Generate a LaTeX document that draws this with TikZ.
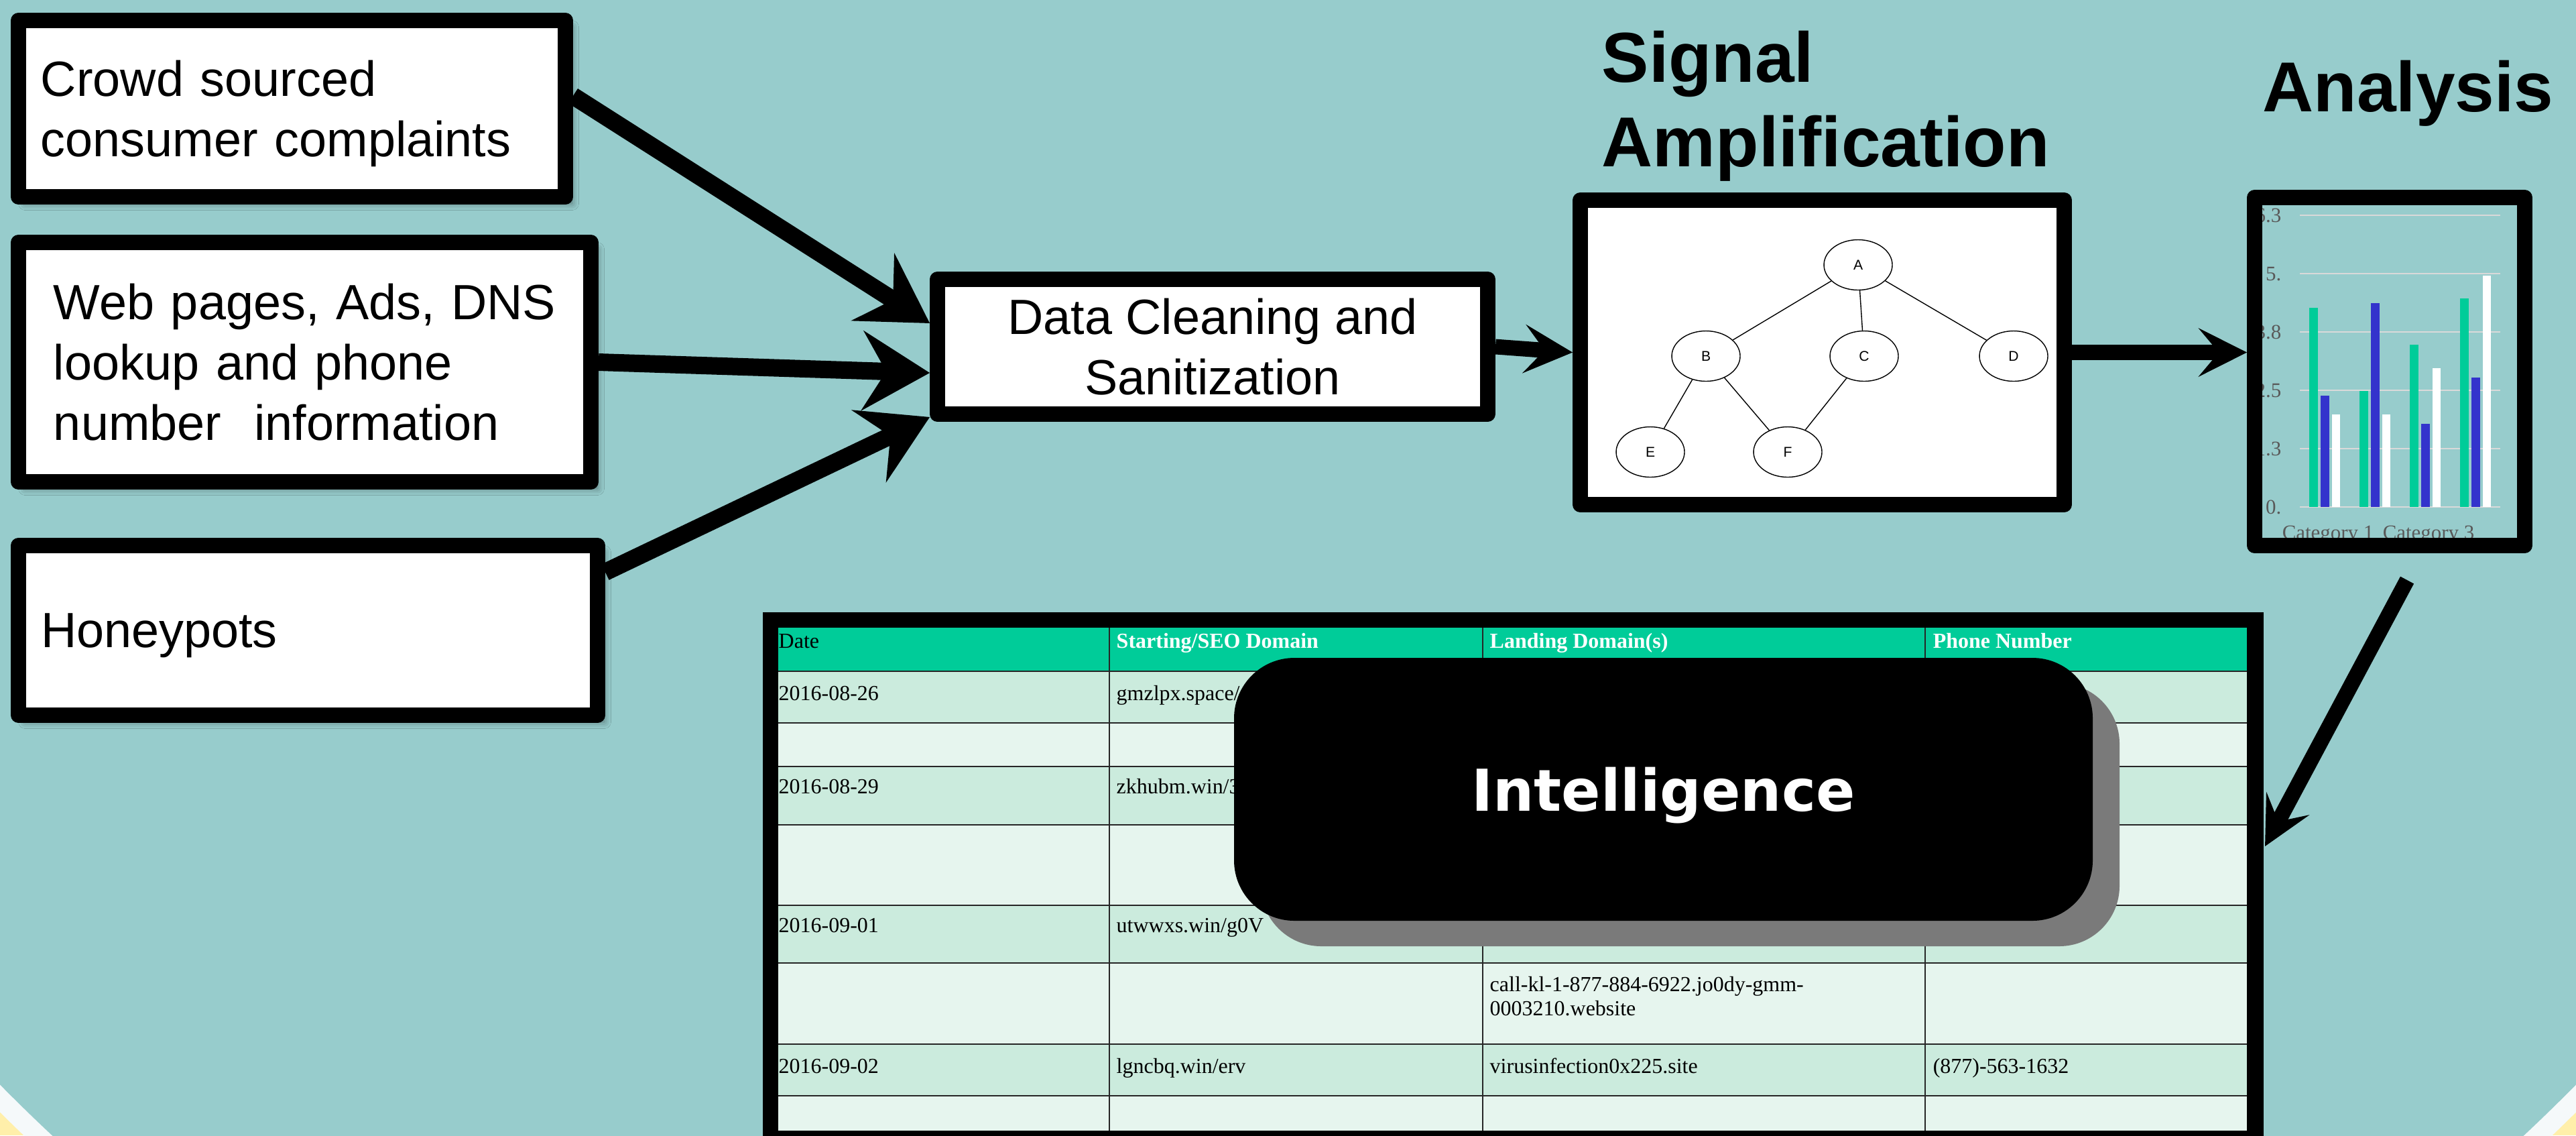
\documentclass[tikz,border=0pt]{standalone}
\usepackage{fontspec}
\setmainfont{Liberation Sans}
\newfontfamily\tabfont{Liberation Serif}
\newfontfamily\intelfont{DejaVu Sans}
\usetikzlibrary{arrows.meta,calc,shapes.geometric,shadows,shadows.blur}
\definecolor{bgteal}{RGB}{151,204,204}
\definecolor{ringwhite}{RGB}{245,249,250}
\definecolor{sandyellow}{RGB}{255,239,170}
\definecolor{headgreen}{RGB}{0,204,153}
\definecolor{rowdark}{RGB}{203,235,221}
\definecolor{rowlight}{RGB}{230,245,238}
\definecolor{barblue}{RGB}{51,51,204}
\definecolor{shadowgray}{RGB}{122,122,122}
\definecolor{gridgray}{RGB}{217,217,217}
\definecolor{ticktext}{RGB}{89,89,89}
\tikzset{
	inbox/.style={draw=black, fill=white, line width=6.5pt, line join=round, inner sep=0pt, align=left, font=\fontsize{21}{25.6}\selectfont, blur shadow={shadow xshift=0.1cm, shadow yshift=-0.1cm, shadow blur radius=0.1cm, shadow opacity=45}},
	procbox/.style={draw=black, fill=white, line width=6.5pt, line join=round, align=center, font=\fontsize{21}{25.6}\selectfont},
	viewbox/.style={draw=black, line width=6.5pt, line join=round},
	headline/.style={inner sep=0pt, align=left, font=\bfseries\fontsize{30}{35.9}\selectfont},
	bigarrow/.style={line width=7.4pt, -{Stealth[length=1cm,width=1.18cm,inset=0.35cm]}},
	smallarrow/.style={line width=6.5pt, -{Stealth[length=0.72cm,width=0.72cm,inset=0.3cm]}},
	gnode/.style={ellipse, draw=black, line width=0.4pt, fill=white, minimum width=1.02cm, minimum height=0.75cm, inner sep=0pt, font=\fontsize{6}{7}\selectfont},
	gedge/.style={line width=0.4pt},
	cell/.style={anchor=base west, inner sep=0pt, font=\tabfont\fontsize{9.1}{10.24}\selectfont},
	headcell/.style={cell, text=white, font=\tabfont\bfseries\fontsize{9.1}{10.24}\selectfont},
	tabrule/.style={line width=0.7pt, black!85},
	ticklabel/.style={anchor=base east, inner sep=0pt, text=ticktext, font=\tabfont\fontsize{8.8}{10}\selectfont},
	intelbox/.style={fill=black, rounded corners=0.9cm, minimum width=12.81cm, minimum height=3.92cm, text depth=0pt, text=white, font=\intelfont\bfseries\fontsize{24.5}{29}\selectfont, drop shadow={shadow xshift=0.4cm, shadow yshift=-0.38cm, fill=shadowgray, opacity=1}}
}
\begin{document}
\begin{tikzpicture}
	\useasboundingbox (0,0) rectangle (38.43,-16.93);
	\clip (0,0) rectangle (38.43,-16.93);
	\fill[sandyellow] (0,0) rectangle (38.43,-16.93);
	\fill[ringwhite] (19.215,2.78) circle (27.28);
	\fill[bgteal] (19.215,2.78) circle (26.99);
	
	\node[inbox, minimum width=8.16cm, minimum height=2.63cm, text width=7.49cm, text depth=25.6pt] (crowd) at (4.355,-1.62) {Crowd sourced\\consumer complaints};
	\node[inbox, minimum width=8.54cm, minimum height=3.57cm, text width=7.49cm, text depth=51.2pt] (web) at (4.545,-5.40) {\mbox{Web pages, Ads, DNS}\\lookup and phone\\number\ \ information};
	\node[inbox, minimum width=8.64cm, minimum height=2.53cm, text width=7.97cm, text depth=0pt] (honey) at (4.595,-9.40) {Honeypots};
	\node[procbox, minimum width=8.21cm, minimum height=2.01cm] (clean) at (18.09,-5.17) {Data Cleaning and\\Sanitization};
	
	\node[viewbox, fill=white, minimum width=7.22cm, minimum height=4.54cm] (graph) at (27.185,-5.255) {};
	\node[headline, anchor=north west] (signal) at (23.89,-0.45) {Signal\\Amplification};
	\node[gnode] (a) at (27.72,-3.95) {A};
	\node[gnode] (b) at (25.45,-5.31) {B};
	\node[gnode] (c) at (27.81,-5.31) {C};
	\node[gnode] (d) at (30.04,-5.31) {D};
	\node[gnode] (e) at (24.62,-6.74) {E};
	\node[gnode] (f) at (26.67,-6.74) {F};
	\draw[gedge] (a) -- (b) (a) -- (c) (a) -- (d) (b) -- (e) (b) -- (f) (c) -- (f);
	
	\node[viewbox, fill=bgteal, minimum width=4.03cm, minimum height=5.19cm] (chart) at (35.65,-5.54) {};
	\node[headline, anchor=base west] (analysis) at (33.75,-1.66) {Analysis};
	\begin{scope}
		\clip (33.75,-3.05) rectangle (37.54,-8.01);
		\foreach \v/\lab [count=\k] in {0/0., 1.26/1.3, 2.52/2.5, 3.78/3.8, 5.04/5., 6.3/6.3}{
			\draw[gridgray, line width=0.6pt] (34.31,{-7.56+0.6905*\v}) -- (37.30,{-7.56+0.6905*\v});
			\node[ticklabel] (tick\k) at (34.04,{-7.66+0.6905*\v}) {\lab};
		}
		\foreach \i/\va/\vb/\vc in {0/4.3/2.4/2, 1/2.5/4.4/2, 2/3.5/1.8/3, 3/4.5/2.8/5}{
			\fill[headgreen] ({34.45+0.75*\i},-7.56) rectangle ({34.58+0.75*\i},{-7.56+0.6905*\va});
			\fill[barblue] ({34.62+0.75*\i},-7.56) rectangle ({34.75+0.75*\i},{-7.56+0.6905*\vb});
			\fill[white] ({34.79+0.75*\i},-7.56) rectangle ({34.91+0.75*\i},{-7.56+0.6905*\vc});
		}
		\node[ticklabel, anchor=base west] (cat1) at (34.04,-8.04) {Category 1};
		\node[ticklabel, anchor=base west] (cat3) at (35.54,-8.04) {Category 3};
	\end{scope}
	
	\draw[bigarrow] ($(crowd.east)+(0,0.19)$) -- ($(clean.west)+(0,0.35)$);
	\draw[bigarrow] (web.east) -- ($(clean.west)+(0,-0.39)$);
	\draw[bigarrow] ($(honey.north east)+(0,-0.51)$) -- ($(clean.south west)+(0,0.07)$);
	\draw[smallarrow] (clean.east) -- (graph.west);
	\draw[smallarrow] (graph.east) -- (graph.east -| chart.west);
	
	\fill[black] (11.38,-9.13) rectangle (33.77,-17.1);
	\foreach \top/\bot/\shade in {9.36/10.01/headgreen, 10.01/10.78/rowdark, 10.78/11.43/rowlight, 11.43/12.30/rowdark, 12.30/13.50/rowlight, 13.50/14.36/rowdark, 14.36/15.57/rowlight, 15.57/16.34/rowdark, 16.34/16.86/rowlight}
		\fill[\shade] (11.61,-\top) rectangle (33.52,-\bot);
	\foreach \y in {10.01,10.78,11.43,12.30,13.50,14.36,15.57,16.34}
		\draw[tabrule] (11.61,-\y) -- (33.52,-\y);
	\foreach \x in {16.55,22.12,28.72}
		\draw[tabrule] (\x,-9.36) -- (\x,-16.86);
	
	\node[cell] (hdate) at (11.61,-9.66) {Date};
	\node[headcell] (hseo) at (16.65,-9.66) {Starting/SEO Domain};
	\node[headcell] (hland) at (22.22,-9.66) {Landing Domain(s)};
	\node[headcell] (hphone) at (28.83,-9.66) {Phone Number};
	\node[cell] (date1) at (11.61,-10.44) {2016-08-26};
	\node[cell] (seo1) at (16.65,-10.44) {gmzlpx.space/};
	\node[cell] (date2) at (11.61,-11.83) {2016-08-29};
	\node[cell] (seo2) at (16.65,-11.83) {zkhubm.win/3};
	\node[cell] (date3) at (11.61,-13.90) {2016-09-01};
	\node[cell] (seo3) at (16.65,-13.90) {utwwxs.win/g0V};
	\node[cell, anchor=north west, align=left] (land3) at (22.22,-14.56) {call-kl-1-877-884-6922.jo0dy-gmm-\\0003210.website};
	\node[cell] (date4) at (11.61,-16.00) {2016-09-02};
	\node[cell] (seo4) at (16.65,-16.00) {lgncbq.win/erv};
	\node[cell] (land4) at (22.22,-16.00) {virusinfection0x225.site};
	\node[cell] (phone4) at (28.83,-16.00) {(877)-563-1632};
	
	\node[intelbox] (intel) at (24.815,-11.77) {Intelligence};
	
	\coordinate (chartout) at (35.91,-8.65);
	\coordinate (tablein) at (33.79,-12.62);
	\draw[smallarrow] (chartout) -- (tablein);
\end{tikzpicture}
\end{document}
